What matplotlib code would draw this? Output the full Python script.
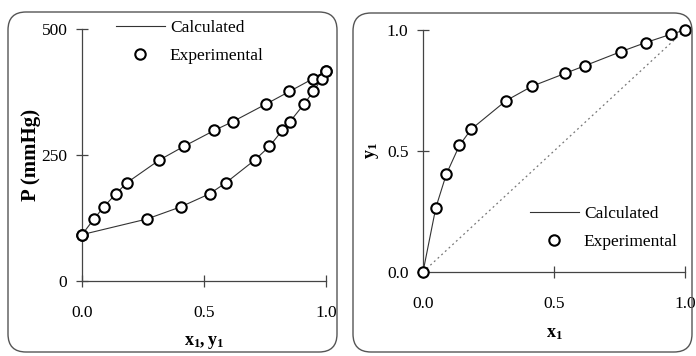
import matplotlib
matplotlib.use("Agg")
import matplotlib.pyplot as plt
from matplotlib.patches import FancyBboxPatch
from matplotlib.lines import Line2D

plt.rcParams['font.family'] = ['Liberation Serif', 'DejaVu Serif']
plt.rcParams['mathtext.fontset'] = 'custom'
plt.rcParams['mathtext.rm'] = 'Liberation Serif'
plt.rcParams['mathtext.bf'] = 'Liberation Serif:bold'
plt.rcParams['mathtext.it'] = 'Liberation Serif:italic'

# Data
x1 = [0.0, 0.049, 0.089, 0.139, 0.184, 0.317, 0.417, 0.543, 0.617, 0.754, 0.850, 0.945, 1.0]
y1 = [0.0, 0.266, 0.404, 0.523, 0.590, 0.708, 0.768, 0.821, 0.852, 0.910, 0.948, 0.982, 1.0]
P = [92, 123, 147, 173, 195, 240, 267, 299, 316, 351, 376, 401, 417]
diag = [0.0, 1.0]
p_ticks = [0, 250, 500]
frac_ticks = [0.0, 0.5, 1.0]

W, H = 696, 356
fig = plt.figure(figsize=(W / 100, H / 100), dpi=100)

# rounded frames (pixel coordinates)
for (x0, xr, yt, yb) in [(8, 337, 12, 352), (353, 692, 13, 352)]:
    box = FancyBboxPatch((x0, H - yb), xr - x0, yb - yt,
                         boxstyle="round,pad=0,rounding_size=18",
                         transform=None, fill=False, edgecolor='#555555', linewidth=1.0)
    fig.patches.append(box)

lc = '#444444'
fs = 12.5

def style(ax):
    for s in ['top', 'right']:
        ax.spines[s].set_visible(False)
    for s in ['left', 'bottom']:
        ax.spines[s].set_color(lc)
        ax.spines[s].set_linewidth(0.9)
    ax.tick_params(direction='inout', length=9, width=0.9, color=lc, labelsize=fs, pad=6)
    ax.tick_params(axis='x', pad=13)

# Left panel
axL = fig.add_axes([82 / W, (H - 281) / H, (326 - 82) / W, (281 - 29) / H])
style(axL)
axL.plot(x1, P, color='#333333', lw=0.8, clip_on=False)
axL.plot(y1, P, color='#333333', lw=0.8, clip_on=False)
mk = dict(ls='none', marker='o', ms=7.5, mfc='white', mec='black', mew=1.5, clip_on=False, zorder=5)
axL.plot(x1, P, **mk)
axL.plot(y1, P, **mk)
axL.set_xlim(0, 1)
axL.set_ylim(0, 500)
axL.set_xticks(frac_ticks)
axL.set_xticklabels(['0.0', '0.5', '1.0'])
axL.set_yticks(p_ticks)
axL.set_ylabel('P (mmHg)', fontsize=15, fontweight='bold', labelpad=0)
axL.set_xlabel(r'$\mathbf{x_1, y_1}$', fontsize=13, labelpad=9)

handles = [Line2D([], [], color='#333333', lw=0.8),
           Line2D([], [], ls='none', marker='o', ms=7.5, mfc='white', mec='black', mew=1.5)]
labels = ['Calculated', 'Experimental']
fig.legend(handles, labels, loc='upper left', bbox_to_anchor=(116 / W, 1 - 20 / H),
           frameon=False, fontsize=fs, handlelength=2.8, handletextpad=0.3,
           labelspacing=0.65, borderaxespad=0, borderpad=0)

# Right panel
axR = fig.add_axes([423 / W, (H - 272) / H, (685 - 423) / W, (272 - 30) / H])
style(axR)
axR.plot(diag, diag, color='#777777', lw=0.9, ls=(0, (1.5, 2.5)))
axR.plot(x1, y1, color='#333333', lw=0.8, clip_on=False)
axR.plot(x1, y1, **mk)
axR.set_xlim(0, 1)
axR.set_ylim(0, 1)
axR.set_xticks(frac_ticks)
axR.set_xticklabels(['0.0', '0.5', '1.0'])
axR.set_yticks(frac_ticks)
axR.set_yticklabels(['0.0', '0.5', '1.0'])
axR.set_ylabel(r'$\mathbf{y_1}$', fontsize=13, labelpad=4)
axR.set_xlabel(r'$\mathbf{x_1}$', fontsize=13, labelpad=9)
fig.legend(handles, labels, loc='upper left', bbox_to_anchor=(530 / W, 1 - 206 / H),
           frameon=False, fontsize=fs, handlelength=2.8, handletextpad=0.3,
           labelspacing=0.65, borderaxespad=0, borderpad=0)

fig.savefig('out.png', dpi=100)
